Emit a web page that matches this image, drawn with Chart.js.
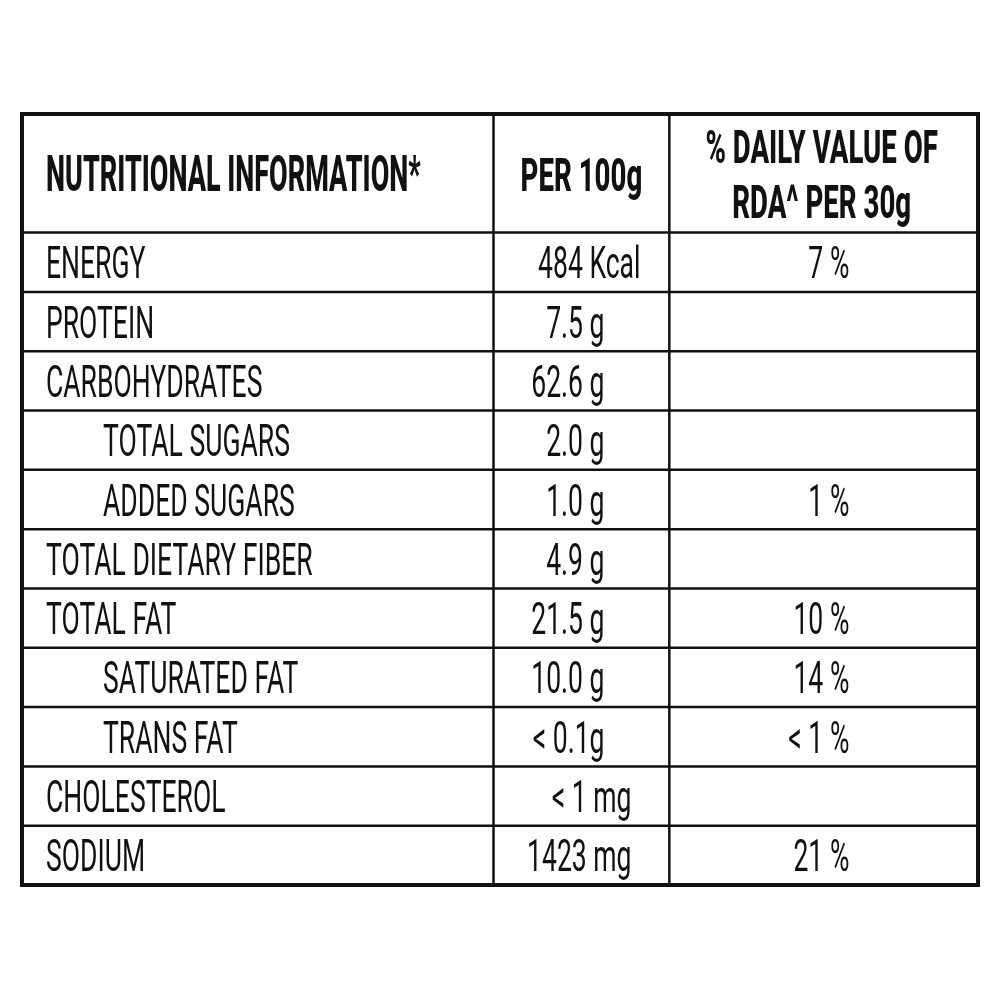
<!DOCTYPE html>
<html><head><meta charset="utf-8">
<script src="https://cdn.jsdelivr.net/npm/chart.js@4/dist/chart.umd.min.js"></script>
<style>html,body{margin:0;padding:0;background:#fff}canvas{display:block}</style>
</head><body>
<canvas id="c" width="1000" height="1000"></canvas>
<script>
// ---- data ----
const headerLabels = ['NUTRITIONAL INFORMATION*', 'PER 100g', '% DAILY VALUE OF', 'RDA^ PER 30g'];
const nutrients = ['ENERGY','PROTEIN','CARBOHYDRATES','TOTAL SUGARS','ADDED SUGARS','TOTAL DIETARY FIBER','TOTAL FAT','SATURATED FAT','TRANS FAT','CHOLESTEROL','SODIUM'];
const subItem = [false,false,false,true,true,false,false,true,true,false,false];
const per100g = ['484 Kcal','7.5 g','62.6 g','2.0 g','1.0 g','4.9 g','21.5 g','10.0 g','< 0.1g','< 1 mg','1423 mg'];
const dailyValue = ['7 %','','','','1 %','','10 %','14 %','< 1 %','','21 %'];

// ---- layout (not data) ----
const colEdges = [0, 472, 648, 957];   // x scale units
const headerRows = 2;                  // header spans two row units
const totalRows = headerRows + nutrients.length;

const INK = '#111';
const BODY_FONT = '400 45px Roboto';
const BODY_SX = 0.59;
const HEAD_FONT = '800 46px Roboto';
const HEAD_SX = 0.6;

function drawText(ctx, txt, x, y, font, sx, align) {
  ctx.save();
  ctx.font = font;
  const w = ctx.measureText(txt).width * sx;
  let left = x;
  if (align === 'center') left = x - w / 2;
  else if (align === 'right') left = x - w;
  ctx.translate(left, y);
  ctx.scale(sx, 1);
  ctx.textAlign = 'left';
  ctx.textBaseline = 'alphabetic';
  ctx.fillStyle = INK;
  ctx.fillText(txt, 0, 0);
  ctx.restore();
}

function unitOffset(txt) {
  if (/Kcal$/.test(txt)) return 147;
  if (/mg$/.test(txt)) return 138;
  return 111;
}

const tablePlugin = {
  id: 'table',
  afterDraw(chart) {
    const ctx = chart.ctx, xs = chart.scales.x, ys = chart.scales.y;
    const X = v => xs.getPixelForValue(v), Y = v => ys.getPixelForValue(v);
    ctx.save();
    ctx.strokeStyle = INK;
    ctx.lineWidth = 2.5;
    for (let r = headerRows; r < totalRows; r++) {
      ctx.beginPath(); ctx.moveTo(X(colEdges[0]), Y(r)); ctx.lineTo(X(colEdges[3]), Y(r)); ctx.stroke();
    }
    for (let c = 1; c < colEdges.length - 1; c++) {
      ctx.beginPath(); ctx.moveTo(X(colEdges[c]), Y(0)); ctx.lineTo(X(colEdges[c]), Y(totalRows)); ctx.stroke();
    }
    ctx.lineWidth = 4;
    ctx.strokeRect(X(colEdges[0]), Y(0), X(colEdges[3]) - X(colEdges[0]), Y(totalRows) - Y(0));
    ctx.restore();

    // header
    const hc = (Y(0) + Y(headerRows)) / 2;
    drawText(ctx, headerLabels[0], X(colEdges[0]) + 24, hc + 18, '800 50px Roboto', 0.54, 'left');
    const c1 = (X(colEdges[1]) + X(colEdges[2])) / 2;
    drawText(ctx, headerLabels[1], c1, hc + 18, HEAD_FONT, HEAD_SX, 'center');
    const c2 = (X(colEdges[2]) + X(colEdges[3])) / 2 - 2;
    drawText(ctx, headerLabels[2], c2, hc - 10, HEAD_FONT, HEAD_SX, 'center');
    drawText(ctx, headerLabels[3], c2, hc + 45, HEAD_FONT, HEAD_SX, 'center');

    // body rows
    nutrients.forEach((name, i) => {
      const yc = (Y(headerRows + i) + Y(headerRows + i + 1)) / 2;
      const base = yc + 16;
      drawText(ctx, name, X(colEdges[0]) + (subItem[i] ? 81 : 24), base, BODY_FONT, BODY_SX, 'left');
      drawText(ctx, per100g[i], X(colEdges[1]) + unitOffset(per100g[i]), base, BODY_FONT, BODY_SX, 'right');
      if (dailyValue[i]) drawText(ctx, dailyValue[i], X(colEdges[2]) + 180, base, BODY_FONT, BODY_SX, 'right');
    });
  }
};

// one invisible point per row keeps the scales data-driven
const rowPoints = nutrients.map((n, i) => ({ x: colEdges[0], y: headerRows + i + 0.5 }));

new Chart(document.getElementById('c'), {
  type: 'scatter',
  data: { datasets: [{ data: rowPoints, pointRadius: 0, pointHoverRadius: 0 }] },
  options: {
    responsive: false,
    animation: false,
    events: [],
    layout: { padding: { left: 22, top: 114, right: 22, bottom: 115 } },
    plugins: { legend: { display: false }, tooltip: { enabled: false } },
    scales: {
      x: { type: 'linear', display: false, min: colEdges[0], max: colEdges[3] },
      y: { type: 'linear', display: false, reverse: true, min: 0, max: totalRows }
    }
  },
  plugins: [tablePlugin]
});
</script>
</body></html>
